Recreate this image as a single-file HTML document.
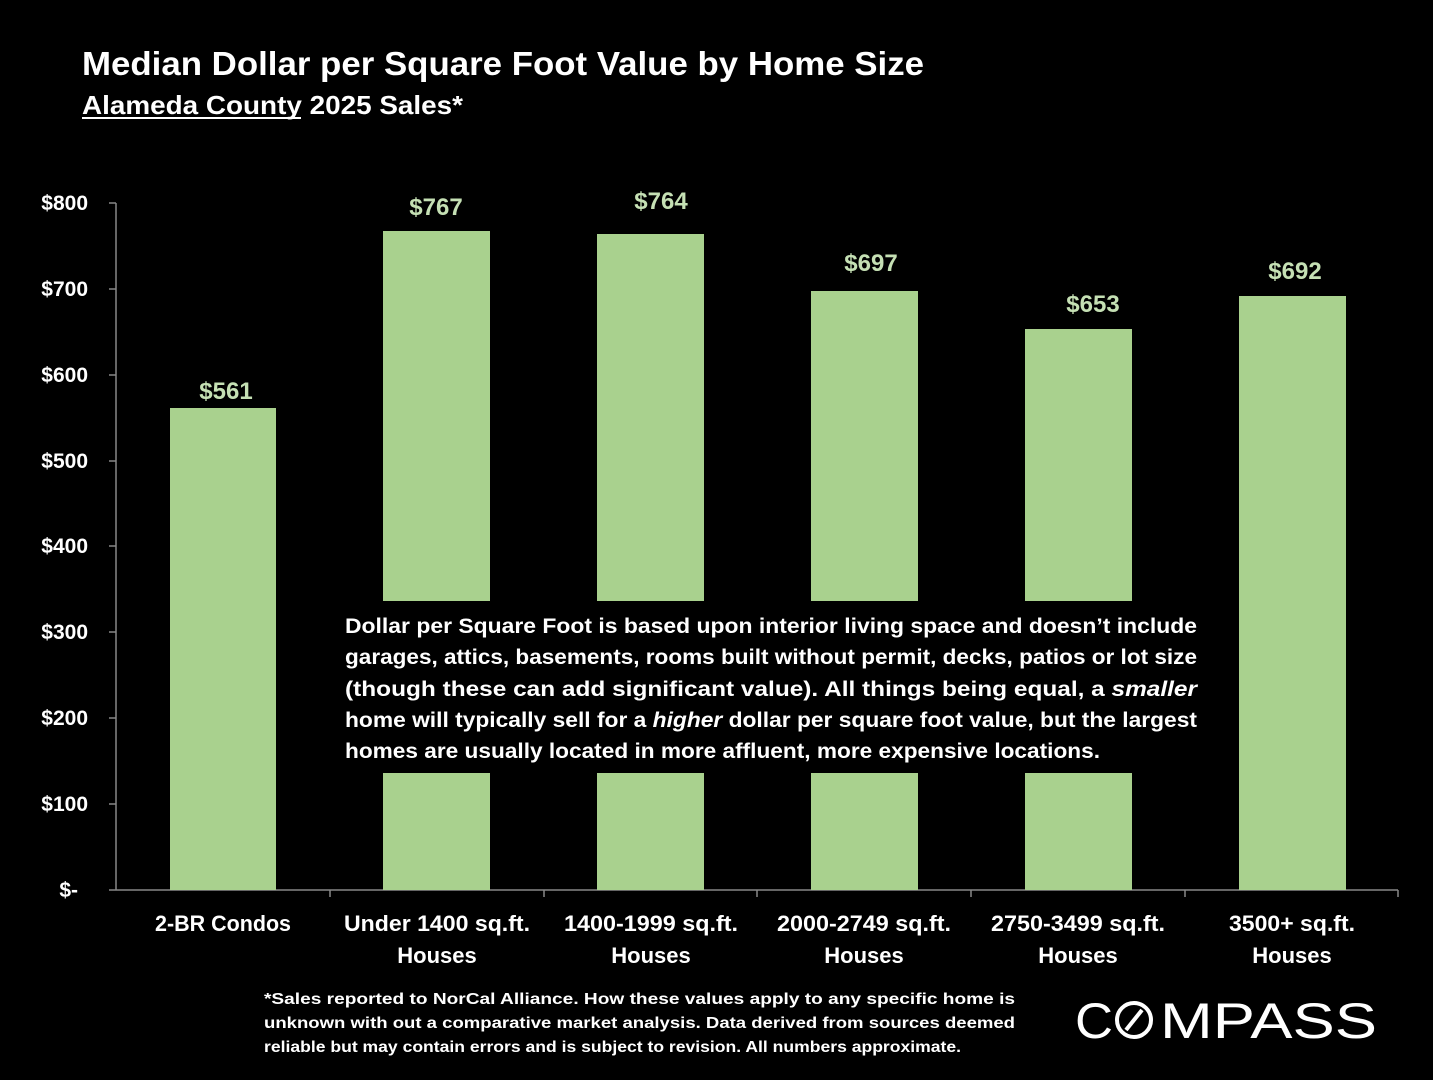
<!DOCTYPE html>
<html><head><meta charset="utf-8"><style>
html,body{margin:0;padding:0;background:#000;}
svg{display:block}
text{font-family:"Liberation Sans",sans-serif;font-weight:bold;}
</style></head><body>
<svg width="1433" height="1080" viewBox="0 0 1433 1080" xmlns="http://www.w3.org/2000/svg">
<rect width="1433" height="1080" fill="#000"/>
<text x="82" y="75" font-size="33" fill="#fff" textLength="842" lengthAdjust="spacingAndGlyphs">Median Dollar per Square Foot Value by Home Size</text>
<text x="82" y="114" font-size="26" fill="#fff" textLength="381" lengthAdjust="spacingAndGlyphs">Alameda County 2025 Sales*</text>
<rect x="82" y="117" width="219" height="2" fill="#fff"/>
<g stroke="#888" stroke-width="1.5">
<line x1="116" y1="203" x2="116" y2="890"/>
<line x1="116" y1="890" x2="1398" y2="890"/>
<line x1="109" y1="203" x2="116" y2="203"/><line x1="109" y1="289" x2="116" y2="289"/>
<line x1="109" y1="375" x2="116" y2="375"/><line x1="109" y1="461" x2="116" y2="461"/>
<line x1="109" y1="546" x2="116" y2="546"/><line x1="109" y1="632" x2="116" y2="632"/>
<line x1="109" y1="718" x2="116" y2="718"/><line x1="109" y1="804" x2="116" y2="804"/>
<line x1="109" y1="890" x2="116" y2="890"/>
<line x1="330" y1="890" x2="330" y2="897"/><line x1="544" y1="890" x2="544" y2="897"/>
<line x1="757" y1="890" x2="757" y2="897"/><line x1="971" y1="890" x2="971" y2="897"/>
<line x1="1185" y1="890" x2="1185" y2="897"/><line x1="1398" y1="890" x2="1398" y2="897"/>
</g>
<g font-size="21" fill="#fff" text-anchor="end">
<text x="88" y="210">$800</text><text x="88" y="296">$700</text><text x="88" y="382">$600</text>
<text x="88" y="468">$500</text><text x="88" y="553">$400</text><text x="88" y="639">$300</text>
<text x="88" y="725">$200</text><text x="88" y="811">$100</text><text x="78" y="897">$-</text>
</g>
<g fill="#a9d18e">
<rect x="170" y="408" width="106" height="482"/>
<rect x="383" y="231" width="107" height="659"/>
<rect x="597" y="234" width="107" height="656"/>
<rect x="811" y="291" width="107" height="599"/>
<rect x="1025" y="329" width="107" height="561"/>
<rect x="1239" y="296" width="107" height="594"/>
</g>
<g font-size="24" fill="#c5e0b4" text-anchor="middle">
<text x="226" y="399">$561</text><text x="436" y="215">$767</text><text x="661" y="209">$764</text>
<text x="871" y="271">$697</text><text x="1093" y="312">$653</text><text x="1295" y="279">$692</text>
</g>
<g font-size="22" fill="#fff" text-anchor="middle">
<text x="223" y="931" textLength="136" lengthAdjust="spacingAndGlyphs">2-BR Condos</text>
<text x="437" y="931" textLength="186" lengthAdjust="spacingAndGlyphs">Under 1400 sq.ft.</text><text x="437" y="963">Houses</text>
<text x="651" y="931" textLength="174" lengthAdjust="spacingAndGlyphs">1400-1999 sq.ft.</text><text x="651" y="963">Houses</text>
<text x="864" y="931" textLength="174" lengthAdjust="spacingAndGlyphs">2000-2749 sq.ft.</text><text x="864" y="963">Houses</text>
<text x="1078" y="931" textLength="174" lengthAdjust="spacingAndGlyphs">2750-3499 sq.ft.</text><text x="1078" y="963">Houses</text>
<text x="1292" y="931" textLength="126" lengthAdjust="spacingAndGlyphs">3500+ sq.ft.</text><text x="1292" y="963">Houses</text>
</g>
<rect x="330" y="601" width="880" height="172" fill="#000"/>
<g font-size="21" fill="#fff">
<text x="345" y="633" textLength="852" lengthAdjust="spacingAndGlyphs">Dollar per Square Foot is based upon interior living space and doesn’t include</text>
<text x="345" y="664" textLength="852" lengthAdjust="spacingAndGlyphs">garages, attics, basements, rooms built without permit, decks, patios or lot size</text>
<text x="345" y="696" textLength="852" lengthAdjust="spacingAndGlyphs">(though these can add significant value). All things being equal, a <tspan font-style="italic">smaller</tspan></text>
<text x="345" y="727" textLength="852" lengthAdjust="spacingAndGlyphs">home will typically sell for a <tspan font-style="italic">higher</tspan> dollar per square foot value, but the largest</text>
<text x="345" y="758" textLength="755" lengthAdjust="spacingAndGlyphs">homes are usually located in more affluent, more expensive locations.</text>
</g>
<g font-size="16" fill="#fff">
<text x="264" y="1004" textLength="751" lengthAdjust="spacingAndGlyphs">*Sales reported to NorCal Alliance. How these values apply to any specific home is</text>
<text x="264" y="1028" textLength="751" lengthAdjust="spacingAndGlyphs">unknown with out a comparative market analysis. Data derived from sources deemed</text>
<text x="264" y="1052" textLength="697" lengthAdjust="spacingAndGlyphs">reliable but may contain errors and is subject to revision. All numbers  approximate.</text>
</g>
<text x="1075" y="1038" font-size="50" fill="#fff" style="font-weight:normal" textLength="38" lengthAdjust="spacingAndGlyphs">C</text>
<circle cx="1134" cy="1020" r="17" fill="none" stroke="#fff" stroke-width="4"/>
<line x1="1126" y1="1030" x2="1142" y2="1010" stroke="#fff" stroke-width="4"/>
<text x="1160" y="1038" font-size="50" fill="#fff" style="font-weight:normal" textLength="217" lengthAdjust="spacingAndGlyphs">MPASS</text>
</svg>
</body></html>
